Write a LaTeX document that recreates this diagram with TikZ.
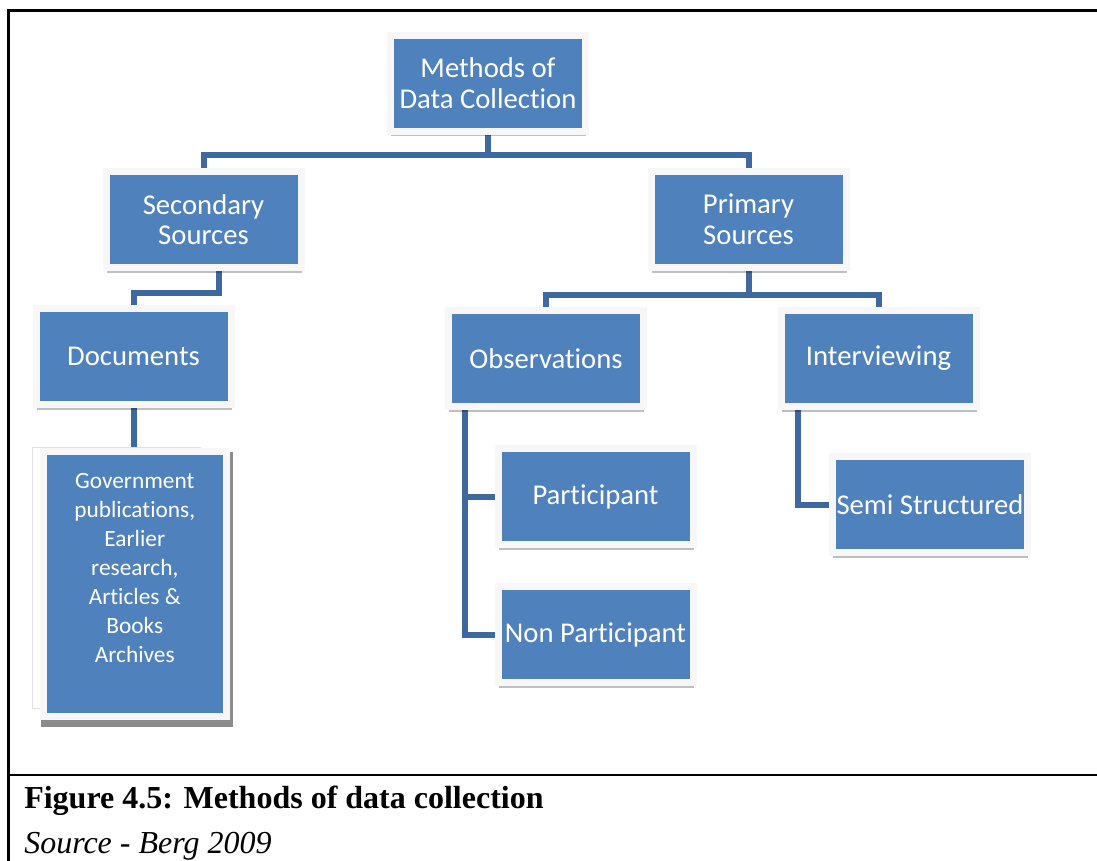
\documentclass[tikz,border=0pt]{standalone}
\usepackage{fontspec}
\newfontfamily\boxfont[Ligatures=NoCommon]{Carlito}
\newfontfamily\capfont{Liberation Serif}
\usetikzlibrary{shadows,backgrounds,calc}
\definecolor{boxblue}{RGB}{79,129,189}
\definecolor{linkblue}{RGB}{62,104,160}
\tikzset{>=latex}

\begin{document}
\begin{tikzpicture}[x=0.75pt,y=-0.75pt]
      \tikzstyle{plain}=[rectangle,fill=boxblue,draw=white!97!black,line width=5.25pt,
        inner sep=1pt,text=white,align=center];
      \tikzstyle{box}=[plain,minimum width=146.25pt,minimum height=72pt,
        font=\boxfont\fontsize{21.5}{23}\selectfont,
        drop shadow={shadow xshift=0.6pt,shadow yshift=-4pt,opacity=.25,fill=black}];
      \tikzstyle{pagebox}=[plain,minimum width=137pt,minimum height=198.75pt,
        font=\boxfont\fontsize{17.5}{21.75}\selectfont];
      \tikzstyle{link}=[draw=linkblue,line width=4.5pt];
      \useasboundingbox (0,0) rectangle (1097,861);

      \draw[line width=2.25pt] (8,861) -- (8,10) -- (1097,10);
      \draw[line width=1.5pt] (8,775) -- (1097,775);

      \node[box] (methods) at (488,83) {Methods of\\Data Collection};
      \node[box] (secondary) at (203.5,219.5) {Secondary\\Sources};
      \node[box] (primary) at (748.5,219.5) {Primary\\Sources};
      \node[box] (documents) at (133.5,356.5) {Documents};
      \node[box] (obs) at (546,358.5) {Observations};
      \node[box] (interview) at (878.5,358.5) {Interviewing};
      \node[box] (part) at (595.5,496.5) {Participant};
      \node[box] (nonpart) at (595.5,634.5) {Non Participant};
      \node[box] (semi) at (930,504.5) {Semi Structured};

      % stacked pages behind the list
      \fill[black!45] (41,452) rectangle (233,727);
      \filldraw[fill=white,draw=black!12] (32,447) rectangle (200,708);
      \node[pagebox] (sources) at (134.75,584) {Government\\publications,\\Earlier\\research,\\Articles \&\\Books\\Archives\\[2pt]\mbox{}};

      \begin{scope}[on background layer]
        \draw[link] (methods.south) -- +(0,20) -| (secondary.north);
        \draw[link] (methods.south) -- +(0,20) -| (primary.north);
        \draw[link] ($(secondary.south)+(15,0)$) -- +(0,22) -| (documents.north);
        \draw[link] (primary.south) -- +(0,24) -| (obs.north);
        \draw[link] (primary.south) -- +(0,24) -| (interview.north);
        \draw[link] (documents.south) -- (documents.south |- sources.north);
        \draw[link] ($(obs.south west)+(20,0)$) |- (part.west);
        \draw[link] ($(obs.south west)+(20,0)$) |- (nonpart.west);
        \draw[link] ($(interview.south west)+(20,0)$) |- (semi.west);
      \end{scope}

      \node[anchor=base west,inner sep=0pt,font=\capfont\bfseries\fontsize{24}{28}\selectfont] (caption) at (24,808) {Figure 4.5: Methods of data collection};
      \node[anchor=base west,inner sep=0pt,font=\capfont\itshape\fontsize{24}{28}\selectfont] (source) at (24,853) {Source - Berg 2009};
    \end{tikzpicture}
\end{document}
